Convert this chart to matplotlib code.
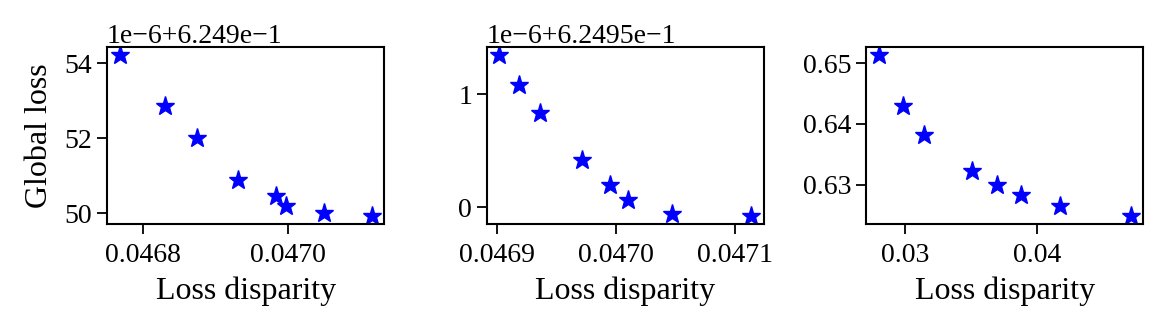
import matplotlib
matplotlib.use("Agg")
import matplotlib.pyplot as plt
from matplotlib.ticker import MultipleLocator

plt.rcParams['font.family'] = ['Liberation Serif', 'DejaVu Serif']
plt.rcParams['mathtext.fontset'] = 'stix'

# Panel 1
x1 = [0.046767, 0.046830, 0.0468745, 0.0469316, 0.046984, 0.0469977, 0.0470506, 0.0471164]
y1 = [0.624954214, 0.62495285, 0.624952, 0.62495089, 0.62495046, 0.6249502, 0.62495002, 0.62494993]
# Panel 2
x2 = [0.0469022, 0.046919, 0.0469365, 0.0469719, 0.0469955, 0.0470107, 0.0470477, 0.047114]
y2 = [0.624951344, 0.624951079, 0.624950835, 0.624950417, 0.624950196, 0.624950064, 0.624949938, 0.624949923]
# Panel 3
x3 = [0.02796, 0.02979, 0.03143, 0.03505, 0.03699, 0.03882, 0.04178, 0.04714]
y3 = [0.65132, 0.64293, 0.63818, 0.6322, 0.6300, 0.62835, 0.62653, 0.62488]

xs = [x1, x2, x3]
ys = [y1, y2, y3]
xlabel = "Loss disparity"
ylabel = "Global loss"

fig = plt.figure(figsize=(11.63, 3.29), dpi=100)
lefts = [0.092, 0.4185, 0.7446]
axes = []
for i, (x, y) in enumerate(zip(xs, ys)):
    ax = fig.add_axes([lefts[i], 0.319, 0.2384, 0.538])
    ax.plot(x, y, linestyle='none', marker='*', color='blue', markersize=14)
    ax.set_xlabel(xlabel, fontsize=23, labelpad=6)
    ax.tick_params(labelsize=20, length=7, width=1.3)
    ax.tick_params(axis='x', pad=7)
    for s in ax.spines.values():
        s.set_linewidth(1.5)
    ax.yaxis.get_offset_text().set_fontsize(20)
    axes.append(ax)
axes[0].set_ylabel(ylabel, fontsize=23, labelpad=8)
axes[0].xaxis.set_major_locator(MultipleLocator(0.0002))
axes[1].xaxis.set_major_locator(MultipleLocator(0.0001))
axes[2].xaxis.set_major_locator(MultipleLocator(0.01))
axes[0].yaxis.set_major_locator(MultipleLocator(2e-6))
axes[1].yaxis.set_major_locator(MultipleLocator(1e-6))
axes[2].yaxis.set_major_locator(MultipleLocator(0.01))

fig.savefig("out.png", dpi=100)
